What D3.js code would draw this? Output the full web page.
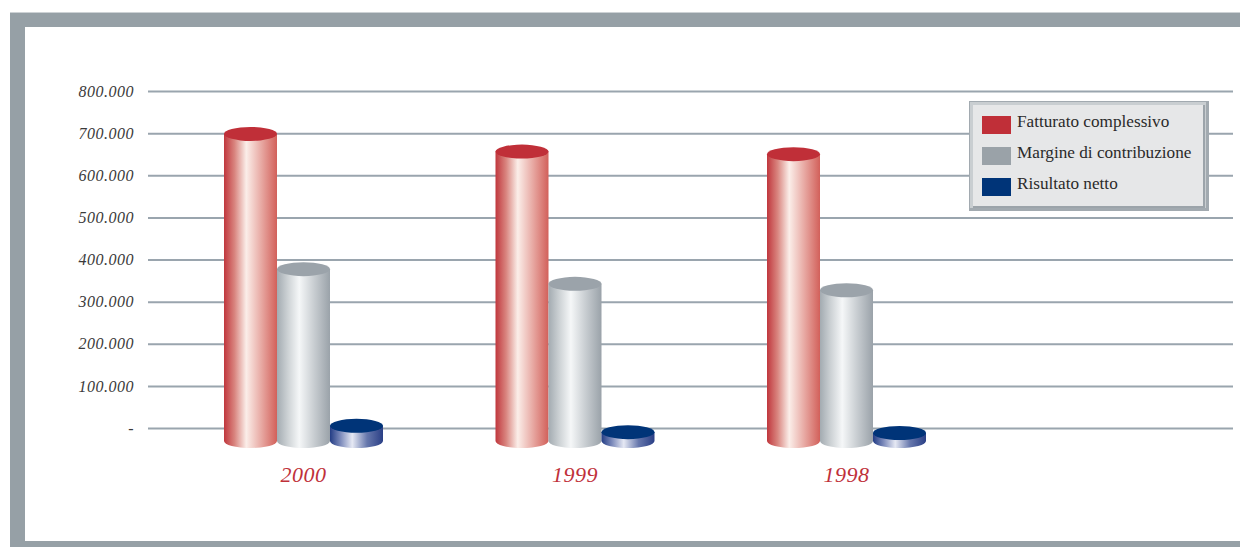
<!DOCTYPE html>
<html>
<head>
<meta charset="utf-8">
<script src="https://cdn.jsdelivr.net/npm/d3@7"></script>
<style>
  html, body { margin: 0; padding: 0; background: #ffffff; }
  svg { display: block; }
</style>
</head>
<body>
<svg id="chart" width="1240" height="547"></svg>
<script>
// Years shown on the category axis
const years = ["2000", "1999", "1998"];
// Series values (thousands)
const fatturato = [729, 687, 681];
const margine = [408, 373, 358];
const risultato = [36, 21, 19];
const seriesNames = ["Fatturato complessivo", "Margine di contribuzione", "Risultato netto"];
// Value axis ticks and their printed labels
const tickValues = [0, 100, 200, 300, 400, 500, 600, 700, 800];
const tickLabels = ["-", "100.000", "200.000", "300.000", "400.000", "500.000", "600.000", "700.000", "800.000"];

const series = [
  { name: seriesNames[0], values: fatturato, top: "#c02f38", swatch: "#c02f38", stops: ["#c0373d", "#d9857f", "#fbeee9", "#e8aaa4", "#d2605a"] },
  { name: seriesNames[1], values: margine, top: "#9ba3aa", swatch: "#9aa2a8", stops: ["#a3abb1", "#ccd1d4", "#f5f7f8", "#c8cdd1", "#9aa2a9"] },
  { name: seriesNames[2], values: risultato, top: "#003478", swatch: "#003478", stops: ["#233d85", "#7d8bbb", "#e6e9f4", "#6677ac", "#2a3f86"] }
];

const svg = d3.select("#chart");
const serif = "'Liberation Serif', 'DejaVu Serif', serif";

// Outer frame bands
svg.append("rect").attr("x", 10).attr("y", 12).attr("width", 1230).attr("height", 15).attr("fill", "#96a0a6");
svg.append("rect").attr("x", 10).attr("y", 12).attr("width", 15).attr("height", 535).attr("fill", "#96a0a6");
svg.append("rect").attr("x", 10).attr("y", 541).attr("width", 1230).attr("height", 6).attr("fill", "#96a0a6");
svg.append("line").attr("x1", 10).attr("x2", 1240).attr("y1", 12.5).attr("y2", 12.5).attr("stroke", "#cdd2d5").attr("stroke-width", 1);

// Scales
const y = d3.scaleLinear().domain([0, 800]).range([428, 91]);
const x = d3.scalePoint().domain(years).range([303.5, 846.5]);
const barW = 53;
const rx = barW / 2, ry = 7;
const depth = 13; // floor offset of the cylinders in front of the back wall

// Gradients for cylinder bodies
const defs = svg.append("defs");
series.forEach((s, i) => {
  const g = defs.append("linearGradient").attr("id", "cyl" + i)
    .attr("x1", "0%").attr("x2", "100%").attr("y1", "0%").attr("y2", "0%");
  const offs = [0, 0.2, 0.42, 0.7, 1];
  s.stops.forEach((c, k) => g.append("stop").attr("offset", offs[k]).attr("stop-color", c));
});

// Gridlines with axis labels
const axis = d3.axisLeft(y)
  .tickValues(tickValues)
  .tickFormat((d, i) => tickLabels[i])
  .tickSize(-1085)
  .tickPadding(14);
const gAxis = svg.append("g").attr("transform", "translate(148,0)").call(axis);
gAxis.select(".domain").remove();
gAxis.selectAll(".tick line").attr("stroke", "#9aa5ae").attr("stroke-width", 2).attr("x1", 0);
gAxis.selectAll(".tick text")
  .attr("font-family", serif).attr("font-style", "italic").attr("font-size", 16)
  .attr("letter-spacing", 0.5)
  .attr("fill", "#3a3a3a");

// Cylinders
const yBase = y(0) + depth;
series.forEach((s, si) => {
  const g = svg.append("g");
  years.forEach((yr, i) => {
    const cx = x(yr) + (si - 1) * barW;
    const x0 = cx - rx, x1 = cx + rx;
    const yTop = yBase - (y(0) - y(s.values[i]));
    g.append("path")
      .attr("d", `M${x0},${yTop} L${x0},${yBase} A${rx},${ry} 0 0 0 ${x1},${yBase} L${x1},${yTop} Z`)
      .attr("fill", `url(#cyl${si})`);
    g.append("ellipse").attr("cx", cx).attr("cy", yTop).attr("rx", rx).attr("ry", ry).attr("fill", s.top);
  });
});

// Year labels
svg.append("g").selectAll("text").data(years).join("text")
  .attr("x", d => x(d)).attr("y", 482)
  .attr("text-anchor", "middle")
  .attr("font-family", serif).attr("font-style", "italic").attr("font-size", 22)
  .attr("letter-spacing", 0.5)
  .attr("fill", "#c0313a")
  .text(d => d);

// Legend
const lg = svg.append("g").attr("transform", "translate(969,101)");
lg.append("rect").attr("x", 0).attr("y", 0).attr("width", 240).attr("height", 110).attr("fill", "#a2aab0");
lg.append("rect").attr("x", 1).attr("y", 1).attr("width", 236).attr("height", 106).attr("fill", "#c9ced1");
lg.append("rect").attr("x", 4).attr("y", 4).attr("width", 232).attr("height", 103).attr("fill", "#9ca4aa");
lg.append("rect").attr("x", 4).attr("y", 4).attr("width", 230).attr("height", 101).attr("fill", "#e6e7e8");
series.forEach((s, i) => {
  const row = lg.append("g").attr("transform", `translate(13,${15 + i * 31})`);
  row.append("rect").attr("width", 29).attr("height", 18).attr("fill", s.swatch);
  row.append("text").attr("x", 35).attr("y", 11)
    .attr("font-family", serif).attr("font-size", 17.2).attr("fill", "#2a2a2a")
    .text(s.name);
});
</script>
</body>
</html>
